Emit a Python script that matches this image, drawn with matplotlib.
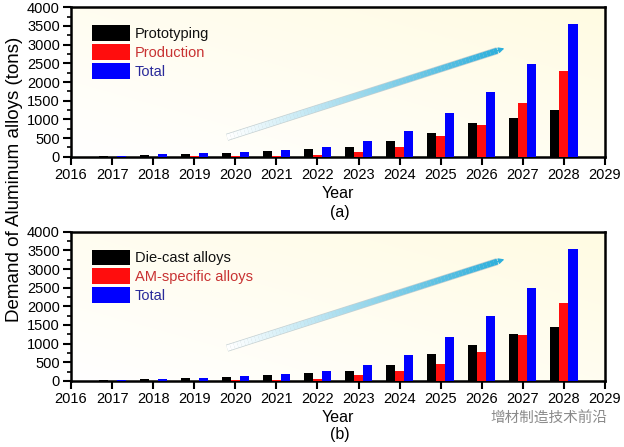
import numpy as np
import matplotlib.pyplot as plt
from matplotlib.collections import LineCollection
from matplotlib.colors import LinearSegmentedColormap

plt.rcParams['font.family'] = ['Liberation Sans', 'DejaVu Sans']

years = np.arange(2017, 2029)

# (a) prototyping / production / total, tons
proto_a = [27, 45, 72, 107, 153, 198, 268, 420, 630, 890, 1030, 1250]
prod_a = [0, 5, 10, 20, 30, 54, 134, 260, 560, 850, 1450, 2300]
total_a = [27, 64, 90, 134, 187, 268, 420, 700, 1180, 1740, 2490, 3550]

# (b) die-cast / AM-specific / total, tons
die_b = [25, 60, 80, 110, 160, 220, 270, 420, 720, 970, 1260, 1440]
am_b = [0, 3, 8, 20, 30, 40, 150, 280, 460, 770, 1220, 2080]
total_b = [25, 60, 90, 134, 195, 275, 425, 700, 1180, 1740, 2490, 3530]

labels_a = ['Prototyping', 'Production', 'Total']
labels_b = ['Die-cast alloys', 'AM-specific alloys', 'Total']

bar_colors = ['#000000', '#ff0d0d', '#0000ff']
text_colors = ['#111111', '#c83232', '#2a2a9a']

# arrow tail / head in data coords
arrow_a = ((2019.8, 520), (2026.55, 2900))
arrow_b = ((2019.8, 880), (2026.55, 3260))

fig = plt.figure(figsize=(6.24, 4.47), dpi=100)
ax1 = fig.add_axes([0.1138, 0.6494, 0.8558, 0.3343])
ax2 = fig.add_axes([0.1138, 0.1477, 0.8558, 0.3340])

bg = LinearSegmentedColormap.from_list('bg', ['#ffffff', '#fffbe2'])
arrow_cmap = LinearSegmentedColormap.from_list('ar', ['#ffffff', '#9ad8ec', '#2fb0dc'])


def draw_arrow(ax, tail, head):
    n = 80
    xs = np.linspace(tail[0], head[0], n)
    ys = np.linspace(tail[1], head[1], n)
    pts = np.column_stack([xs, ys]).reshape(-1, 1, 2)
    segs = np.concatenate([pts[:-1], pts[1:]], axis=1)
    ax.plot([tail[0], xs[-3]], [tail[1], ys[-3]], color='#c4d0d2',
            lw=5.2, solid_capstyle='butt', zorder=2)
    lc = LineCollection(segs[:-2], cmap=arrow_cmap, lw=4.2, zorder=3,
                        capstyle='butt')
    lc.set_array(np.linspace(0, 1, n - 3))
    ax.add_collection(lc)
    ax.annotate('', xy=head, xytext=(xs[-4], ys[-4]),
                arrowprops=dict(arrowstyle='-|>', mutation_scale=8,
                                color='#2fb0dc', lw=1, shrinkA=0, shrinkB=0),
                zorder=4)


def panel(ax, vals, labels, tail_head):
    grad = np.linspace(0, 1, 256)
    img = np.add.outer(np.zeros(256), grad) * 0.5 + np.add.outer(grad, np.zeros(256)) * 0.5
    ax.imshow(img[::-1], extent=[0, 1, 0, 1], transform=ax.transAxes,
              cmap=bg, aspect='auto', zorder=0)
    w = 0.22
    offsets = [-w, 0, w]
    handles = []
    for v, off, c, lab in zip(vals, offsets, bar_colors, labels):
        h = ax.bar(years + off, v, width=w, color=c, zorder=5, label=lab)
        handles.append(h)
    draw_arrow(ax, *tail_head)
    ax.set_xlim(2016, 2029)
    ax.set_ylim(0, 4000)
    ax.set_xticks(np.arange(2016, 2030))
    ax.set_yticks(np.arange(0, 4001, 500))
    ax.set_yticks(np.arange(250, 4000, 500), minor=True)
    ax.tick_params(axis='both', labelsize=10.5, width=1.5, length=6,
                   direction='out', pad=2)
    ax.tick_params(axis='y', which='minor', length=3, width=1.2)
    for s in ax.spines.values():
        s.set_linewidth(1.8)
    ax.set_xlabel('Year', fontsize=11.5, labelpad=3)
    leg = ax.legend(handles=handles, loc='upper left', frameon=False,
                    bbox_to_anchor=(0.039, 0.88), borderpad=0, borderaxespad=0,
                    handlelength=2.6, handleheight=1.3, labelspacing=0.2,
                    handletextpad=0.35, fontsize=10.5)
    for t, c in zip(leg.get_texts(), text_colors):
        t.set_color(c)


panel(ax1, [proto_a, prod_a, total_a], labels_a, arrow_a)
panel(ax2, [die_b, am_b, total_b], labels_b, arrow_b)

fig.text(0.545, 1 - 213 / 447, '(a)', ha='center', va='center', fontsize=11.5)
fig.text(0.545, 1 - 435 / 447, '(b)', ha='center', va='center', fontsize=11.5)
fig.text(15 / 624, 1 - 179 / 447, 'Demand of Aluminum alloys (tons)',
         rotation=90, ha='center', va='center', fontsize=13.5)
fig.text(607 / 624, 1 - 419 / 447, '增材制造技术前沿', ha='right', va='center',
         fontsize=10.5, color='#8a8a8a', family=['Noto Sans CJK SC', 'DejaVu Sans'])

fig.savefig('out.png', dpi=100)
